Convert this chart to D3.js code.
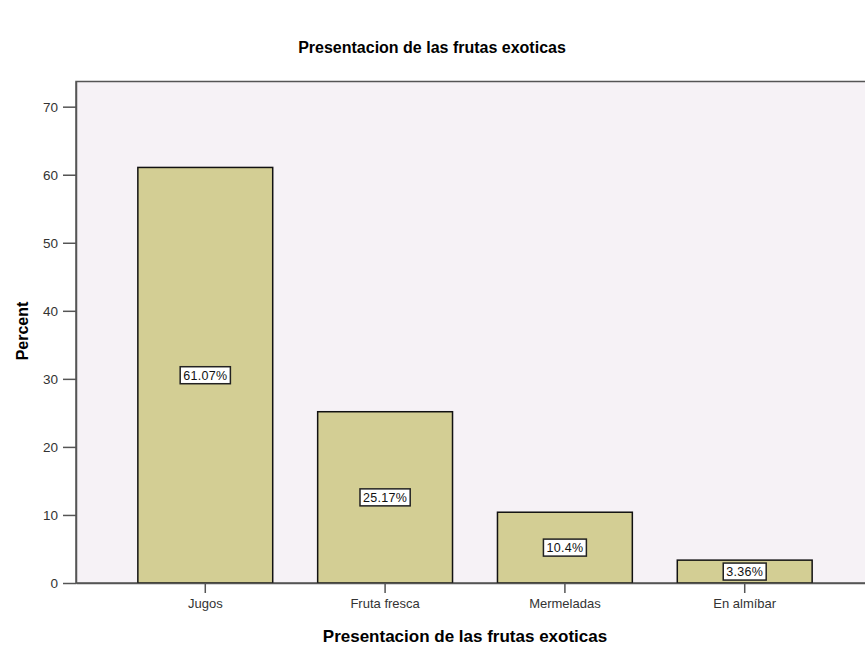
<!DOCTYPE html>
<html>
<head>
<meta charset="utf-8">
<script src="https://cdn.jsdelivr.net/npm/d3@7"></script>
<style>
  body { margin: 0; background: #fff; }
  text { font-family: "Liberation Sans", Arial, sans-serif; }
</style>
</head>
<body>
<svg id="chart" width="865" height="649"></svg>
<script>
var categories = ['Jugos', 'Fruta fresca', 'Mermeladas', 'En almíbar'];
var percents = [61.07, 25.17, 10.4, 3.36];
var yTicks = [0, 10, 20, 30, 40, 50, 60, 70];

var svg = d3.select('#chart');
// note: "top" is taken by window.top, so use other names
var plotLeft = 76, plotTop = 81.5, plotBottom = 583, plotRight = 874;

var x = d3.scaleBand()
    .domain(categories)
    .range([plotLeft, plotRight])
    .paddingInner(0.25)
    .paddingOuter(0.344);

var y = d3.scaleLinear()
    .domain([0, 73.7])
    .range([plotBottom, plotTop]);

// plot background
svg.append('rect')
    .attr('x', plotLeft).attr('y', plotTop)
    .attr('width', plotRight - plotLeft).attr('height', plotBottom - plotTop)
    .attr('fill', '#f6f2f6')
    .attr('stroke', '#555')
    .attr('stroke-width', 1.5);

// bars
var data = categories.map((c, i) => ({name: c, value: percents[i]}));
svg.append('g').selectAll('rect')
    .data(data)
    .join('rect')
    .attr('x', d => x(d.name))
    .attr('y', d => y(d.value))
    .attr('width', x.bandwidth())
    .attr('height', d => y(0) - y(d.value))
    .attr('fill', '#d3ce94')
    .attr('stroke', '#111')
    .attr('stroke-width', 1.5);

// y axis
var yAxis = svg.append('g')
    .attr('transform', `translate(${plotLeft},0)`)
    .call(d3.axisLeft(y).tickValues(yTicks).tickSize(13).tickPadding(5).tickSizeOuter(0));
yAxis.select('.domain').attr('stroke', '#555').attr('stroke-width', 1.5);
yAxis.selectAll('.tick line').attr('stroke', '#555').attr('stroke-width', 1.5);
yAxis.selectAll('text').attr('font-size', 13.5).attr('fill', '#333')
    .style('font-family', '"Liberation Sans", Arial, sans-serif');

// x axis
var xAxis = svg.append('g')
    .attr('transform', `translate(0,${plotBottom})`)
    .call(d3.axisBottom(x).tickSize(10).tickPadding(6).tickSizeOuter(0));
xAxis.select('.domain').attr('stroke', '#555').attr('stroke-width', 1.5);
xAxis.selectAll('.tick line').attr('stroke', '#555').attr('stroke-width', 1.5);
xAxis.selectAll('text').attr('font-size', 13).attr('fill', '#333')
    .style('font-family', '"Liberation Sans", Arial, sans-serif');

// value labels in boxes at the middle of the bars
var labels = svg.append('g').selectAll('g')
    .data(data)
    .join('g')
    .attr('transform', d => `translate(${x(d.name) + x.bandwidth() / 2},${y(d.value / 2)})`);
labels.append('text')
    .attr('text-anchor', 'middle')
    .attr('dy', '0.36em')
    .attr('font-size', 12.5)
    .attr('letter-spacing', 0.3)
    .attr('fill', '#111')
    .text(d => d.value + '%');
labels.each(function() {
    var g = d3.select(this);
    var bb = g.select('text').node().getBBox();
    g.insert('rect', 'text')
        .attr('x', bb.x - 3).attr('y', -8.5)
        .attr('width', bb.width + 6).attr('height', 17)
        .attr('fill', '#fff')
        .attr('stroke', '#222')
        .attr('stroke-width', 1.5);
});

// titles
svg.append('text')
    .attr('x', 432).attr('y', 53)
    .attr('text-anchor', 'middle')
    .attr('font-size', 16).attr('font-weight', 'bold')
    .text('Presentacion de las frutas exoticas');

svg.append('text')
    .attr('x', 465).attr('y', 642)
    .attr('text-anchor', 'middle')
    .attr('font-size', 17).attr('font-weight', 'bold')
    .text('Presentacion de las frutas exoticas');

svg.append('text')
    .attr('transform', 'translate(28,331) rotate(-90)')
    .attr('text-anchor', 'middle')
    .attr('font-size', 16).attr('font-weight', 'bold')
    .text('Percent');
</script>
</body>
</html>
